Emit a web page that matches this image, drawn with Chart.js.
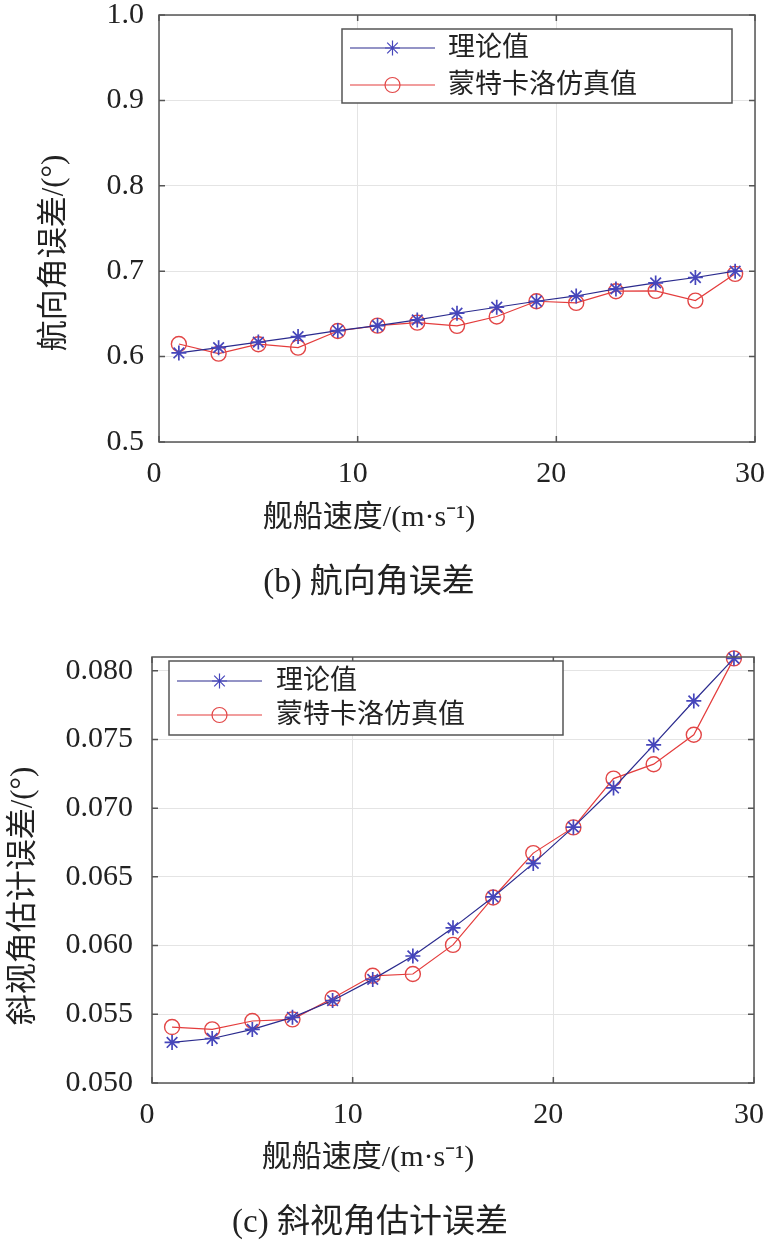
<!DOCTYPE html>
<html lang="zh">
<head>
<meta charset="utf-8">
<title>航向角误差 / 斜视角估计误差</title>
<script src="https://cdn.jsdelivr.net/npm/chart.js@4.4.1/dist/chart.umd.min.js"></script>
<style>
  html, body { margin: 0; padding: 0; background: #fff; }
  canvas { position: absolute; left: 0; }
</style>
</head>
<body>
<canvas id="headingChart" width="765" height="621" style="top:0"></canvas>
<canvas id="squintChart" width="765" height="621" style="top:621px"></canvas>
<script>
// ship speed, m/s
const speeds = [1, 3, 5, 7, 9, 11, 13, 15, 17, 19, 21, 23, 25, 27, 29];
const xTicks = [0, 10, 20, 30];
const seriesNames = ['理论值', '蒙特卡洛仿真值'];
const xTitle = '舰船速度/(m·s⁻¹)';

// (b) heading angle error, degrees
const headingTheory = [0.6043, 0.6105, 0.6170, 0.6234, 0.6305, 0.6363, 0.6430, 0.6508,
                       0.6578, 0.6648, 0.6710, 0.6793, 0.6863, 0.6926, 0.7000];
const headingMC = [0.6148, 0.6035, 0.6145, 0.6105, 0.6300, 0.6363, 0.6398, 0.6360,
                   0.6469, 0.6648, 0.6629, 0.6766, 0.6770, 0.6656, 0.6969];
const headingTicks = [0.5, 0.6, 0.7, 0.8, 0.9, 1.0];

// (c) squint angle estimation error, degrees
const squintTheory = [0.05295, 0.05324, 0.05390, 0.05478, 0.05600, 0.05754, 0.05924, 0.06129,
                      0.06354, 0.06598, 0.06862, 0.07147, 0.07460, 0.07780, 0.08090];
const squintMC = [0.05407, 0.05390, 0.05451, 0.05463, 0.05617, 0.05780, 0.05793, 0.06005,
                  0.06350, 0.06673, 0.06860, 0.07215, 0.07320, 0.07534, 0.08090];
const squintTicks = [0.050, 0.055, 0.060, 0.065, 0.070, 0.075, 0.080];

const FONT = "'Liberation Serif', 'Noto Sans CJK SC', serif";
Chart.defaults.font.family = FONT;
Chart.defaults.color = '#222';

const AXIS = '#555';

// matlab-like box with inward ticks, legend box and the titles
const framePlugin = {
  id: 'frame',
  afterDatasetsDraw(chart) {
    const ctx = chart.ctx;
    const {left, right, top, bottom} = chart.chartArea;
    const xs = chart.scales.x, ys = chart.scales.y;
    ctx.save();
    ctx.strokeStyle = AXIS;
    ctx.lineWidth = 1.5;
    ctx.strokeRect(left, top, right - left, bottom - top);
    ctx.beginPath();
    xs.ticks.forEach(t => {
      const px = xs.getPixelForValue(t.value);
      ctx.moveTo(px, bottom); ctx.lineTo(px, bottom - 6);
      ctx.moveTo(px, top); ctx.lineTo(px, top + 6);
    });
    ys.ticks.forEach(t => {
      const py = ys.getPixelForValue(t.value);
      ctx.moveTo(left, py); ctx.lineTo(left + 6, py);
      ctx.moveTo(right, py); ctx.lineTo(right - 6, py);
    });
    ctx.stroke();
    ctx.restore();
  },
  afterDraw(chart, args, opts) {
    const ctx = chart.ctx;
    const b = opts.box;
    ctx.save();
    ctx.fillStyle = '#fff';
    ctx.fillRect(b.x, b.y, b.w, b.h);
    ctx.strokeStyle = AXIS;
    ctx.lineWidth = 1.5;
    ctx.strokeRect(b.x, b.y, b.w, b.h);
    chart.data.datasets.forEach((ds, i) => {
      const y = b.rows[i];
      ctx.strokeStyle = ds.borderColor;
      ctx.lineWidth = ds.borderWidth;
      ctx.beginPath();
      ctx.moveTo(b.line[0], y);
      ctx.lineTo(b.line[1], y);
      ctx.stroke();
      ctx.strokeStyle = ds.pointBorderColor;
      ctx.fillStyle = 'rgba(0,0,0,0)';
      Chart.helpers.drawPoint(ctx, {
        pointStyle: ds.pointStyle, radius: ds.pointRadius,
        borderWidth: ds.pointBorderWidth, rotation: 0
      }, (b.line[0] + b.line[1]) / 2, y);
      ctx.fillStyle = '#222';
      ctx.font = '27px ' + FONT;
      ctx.textBaseline = 'middle';
      ctx.textAlign = 'left';
      ctx.fillText(ds.label, b.text, y + 1);
    });

    // axis titles and caption (matlab figure puts them off-centre)
    ctx.fillStyle = '#222';
    ctx.textAlign = 'center';
    ctx.textBaseline = 'middle';
    ctx.font = '30px ' + FONT;
    ctx.fillText(opts.xTitle.text, opts.xTitle.x, opts.xTitle.y);
    ctx.save();
    ctx.translate(opts.yTitle.x, opts.yTitle.y);
    ctx.rotate(-Math.PI / 2);
    ctx.font = '31px ' + FONT;
    ctx.fillText(opts.yTitle.text, 0, 0);
    ctx.restore();
    ctx.font = '33px ' + FONT;
    ctx.fillText(opts.caption.text, opts.caption.x, opts.caption.y);
    ctx.restore();
  }
};

function makeChart(id, theory, mc, yTicks, digits, yTitle, caption, L) {
  const pts = arr => speeds.map((s, i) => ({x: s, y: arr[i]}));
  return new Chart(document.getElementById(id), {
    type: 'line',
    data: {
      datasets: [{
        label: seriesNames[0],
        data: pts(theory),
        borderColor: '#2b2b8e',
        borderWidth: 1.2,
        pointStyle: 'star',
        pointRadius: 7.5,
        pointBorderColor: '#4646bb',
        pointBorderWidth: 1.7,
        pointBackgroundColor: 'rgba(0,0,0,0)',
        clip: 12
      }, {
        label: seriesNames[1],
        data: pts(mc),
        borderColor: '#e43c3c',
        borderWidth: 1.2,
        pointStyle: 'circle',
        pointRadius: 7.5,
        pointBorderColor: '#e24646',
        pointBorderWidth: 1.4,
        pointBackgroundColor: 'rgba(0,0,0,0)',
        clip: 12
      }]
    },
    options: {
      responsive: false,
      animation: false,
      layout: {padding: {top: L.top, right: L.right, left: 0, bottom: L.bottom}},
      elements: {line: {tension: 0}},
      plugins: {
        legend: {display: false},
        tooltip: {enabled: false},
        frame: {
          box: L.legend,
          xTitle: {text: xTitle, x: L.xTitleAt[0], y: L.xTitleAt[1]},
          yTitle: {text: yTitle, x: L.yTitleAt[0], y: L.yTitleAt[1]},
          caption: {text: caption, x: L.captionAt[0], y: L.captionAt[1]}
        }
      },
      scales: {
        x: {
          type: 'linear', min: 0, max: 30,
          afterBuildTicks: s => { s.ticks = xTicks.map(v => ({value: v})); },
          afterFit: s => { s.height = 100; s.paddingLeft = 0; s.paddingRight = 0; },
          grid: {color: '#e4e4e4', drawTicks: false},
          border: {display: false},
          ticks: {padding: 14, labelOffset: -5, font: {size: 30}, maxRotation: 0, autoSkip: false}
        },
        y: {
          type: 'linear', min: yTicks[0], max: L.yMax,
          afterBuildTicks: s => { s.ticks = yTicks.map(v => ({value: v})); },
          afterFit: s => { s.width = L.yWidth; s.paddingTop = 0; s.paddingBottom = 0; },
          grid: {color: '#e4e4e4', drawTicks: false},
          border: {display: false},
          ticks: {padding: L.tickPad, font: {size: 30}, callback: v => v.toFixed(digits)}
        }
      }
    },
    plugins: [framePlugin]
  });
}

makeChart('headingChart', headingTheory, headingMC, headingTicks, 1,
  '航向角误差/(°)', '(b) 航向角误差', {
    top: 15, right: 10, bottom: 79, yWidth: 159, yMax: 1.0, tickPad: 15,
    xTitleAt: [369, 518], yTitleAt: [55, 253], captionAt: [369, 583],
    legend: {x: 342, y: 29, w: 390, h: 74, rows: [48, 85], line: [350, 435], text: 448}
  });

makeChart('squintChart', squintTheory, squintMC, squintTicks, 3,
  '斜视角估计误差/(°)', '(c) 斜视角估计误差', {
    top: 36, right: 11, bottom: 59, yWidth: 152, yMax: 0.081, tickPad: 19,
    xTitleAt: [368, 537], yTitleAt: [24, 275], captionAt: [370, 602],
    legend: {x: 169, y: 40, w: 394, h: 74, rows: [60, 94], line: [177, 262], text: 276}
  });
</script>
</body>
</html>
